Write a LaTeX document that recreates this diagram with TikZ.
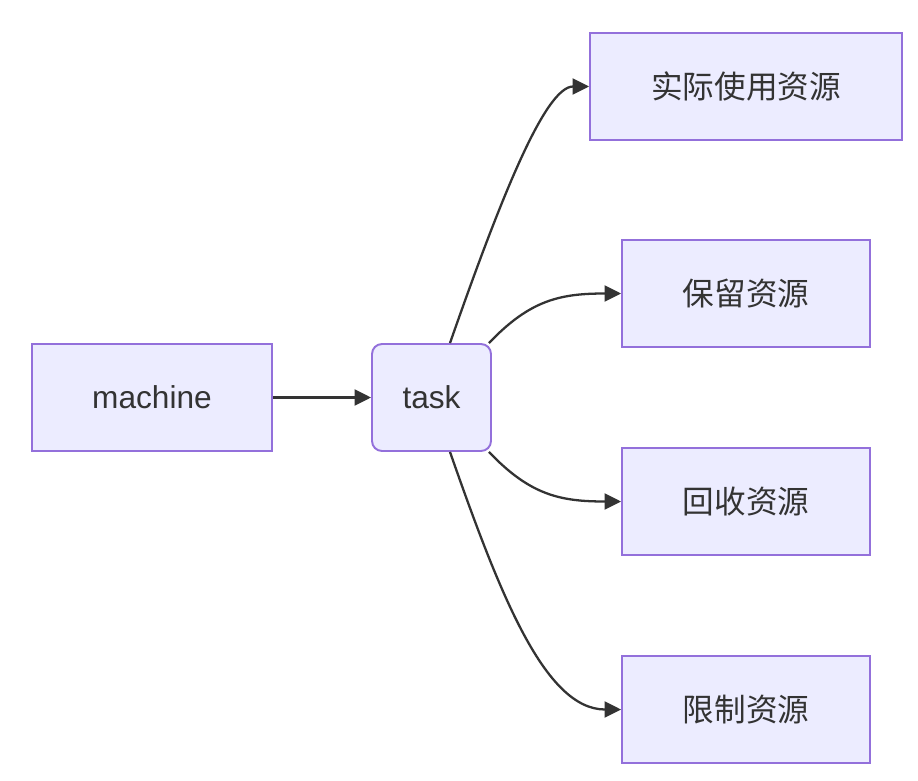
\documentclass[tikz,border=0pt]{standalone}
\usepackage{fontspec}
\setmainfont{Liberation Sans}
\newfontfamily\cjk{Noto Sans CJK SC}
\usetikzlibrary{arrows.meta}

\definecolor{boxfill}{HTML}{ECECFF}
\definecolor{boxline}{HTML}{9370DB}
\definecolor{edgecol}{HTML}{333333}

\begin{document}
\begin{tikzpicture}[x=0.02cm,y=-0.02cm,
  box/.style={draw=boxline,fill=boxfill,line width=1.1pt,minimum height=2.14cm,
    text=edgecol,font=\fontsize{18}{20}\selectfont,inner sep=0pt},
  link/.style={draw=edgecol,line width=1.3pt,-{Triangle[length=0.33cm,width=0.32cm]}}]
  \useasboundingbox (0,0) rectangle (918,780);
  % draw boxes
  \node[box,minimum width=4.8cm] (machine) at (152,397.5) {machine};
  \node[box,minimum width=2.38cm,rounded corners=0.2cm] (task) at (431.5,397.5) {task};
  \node[box,minimum width=6.24cm] (real) at (746,86.5) {\cjk 实际使用资源};
  \node[box,minimum width=4.96cm] (keep) at (746,293.5) {\cjk 保留资源};
  \node[box,minimum width=4.96cm] (back) at (746,501.5) {\cjk 回收资源};
  \node[box,minimum width=4.96cm] (limit) at (746,709.5) {\cjk 限制资源};
  % draw links
  \draw[link] (machine) -- (task);
  \draw[link] ([xshift=0.37cm]task.north) .. controls (500,200) and (545,86.5) .. (real.west);
  \draw[link] ([xshift=-0.06cm]task.north east) .. controls (530,300) and (560,293.5) .. (keep.west);
  \draw[link] ([xshift=-0.06cm]task.south east) .. controls (530,495) and (560,501.5) .. (back.west);
  \draw[link] ([xshift=0.37cm]task.south) .. controls (500,595) and (545,709.5) .. (limit.west);
\end{tikzpicture}
\end{document}
